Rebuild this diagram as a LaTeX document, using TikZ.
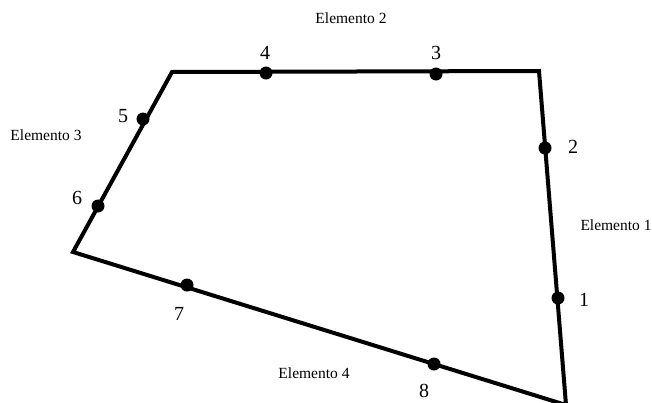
\documentclass[tikz,border=0pt]{standalone}
\usepackage{fontspec}
\setmainfont{Liberation Serif}
\usetikzlibrary{positioning}

\begin{document}
\begin{tikzpicture}[
  x=1pt, y=-1pt,
  edge/.style={line width=4pt, line join=miter},
  knot/.style={circle, fill=black, inner sep=0pt, minimum size=13pt},
  num/.style={font=\fontsize{20}{20}\selectfont, inner sep=0pt},
  elem/.style={font=\fontsize{15.5}{16}\selectfont, inner sep=0pt},
]
\useasboundingbox (0,0) rectangle (652,402);

\coordinate (v1) at (172,72);
\coordinate (v2) at (539,71);
\coordinate (v3) at (566,405);
\coordinate (v4) at (73,252);
\draw[edge] (v1) -- (v2) -- (v3) -- (v4) -- cycle;

\foreach \i/\x/\y/\lx/\ly in {1/558/298/584/300, 2/545/148/573/147,
    3/436/74/436/53, 4/266/73/265/53, 5/143/119/123/116,
    6/98/206/77/198, 7/187/285/179/314, 8/434/364/424/391}{
  \node[knot] (k\i) at (\x,\y) {};
  \node[num] (n\i) at (\lx,\ly) {\i};
}

\node[elem] (e1) at (616,225) {Elemento 1};
\node[elem] (e2) at (351,18)  {Elemento 2};
\node[elem] (e3) at (46,135)  {Elemento 3};
\node[elem] (e4) at (314,373) {Elemento 4};
\end{tikzpicture}
\end{document}
